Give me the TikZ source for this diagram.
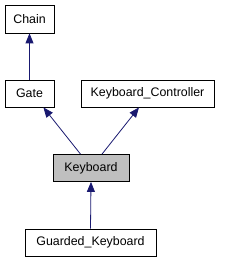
\documentclass[tikz,border=0pt]{standalone}
\usepackage{fontspec}
\setmainfont{Liberation Sans}
\usetikzlibrary{arrows.meta,calc}
\definecolor{edgeblue}{RGB}{25,25,112}
\definecolor{curgray}{RGB}{191,191,191}
\begin{document}
\begin{tikzpicture}[x=1pt,y=-1pt,
  cls/.style={draw=black,line width=0.8pt,fill=white,inner sep=0pt,minimum height=27pt,font=\fontsize{12.4}{14}\selectfont},
  inh/.style={draw=edgeblue,line width=0.8pt,-{Triangle[length=10pt,width=8pt]}}]
\useasboundingbox (0,0) rectangle (224,261);
\node[cls,minimum width=49pt,minimum height=28pt] (chain) at (29.5,19) {Chain};
\node[cls,minimum width=49pt] (gate) at (29.5,93.5) {Gate};
\node[cls,minimum width=133pt] (kc) at (147.5,93.5) {Keyboard\_Controller};
\node[cls,minimum width=76pt,fill=curgray] (kb) at (91,168) {Keyboard};
\node[cls,minimum width=131pt] (gk) at (90.5,242.5) {Guarded\_Keyboard};
\draw[inh] (gate.north) -- (chain.south);
\draw[inh] ($(kb.north)+(-10.5,0)$) -- ($(gate.south east)+(-11,0)$);
\draw[inh] ($(kb.north)+(11,0)$) -- ($(kc.south)+(-8.5,0)$);
\draw[inh] (gk.north) -- (kb.south);
\end{tikzpicture}
\end{document}
